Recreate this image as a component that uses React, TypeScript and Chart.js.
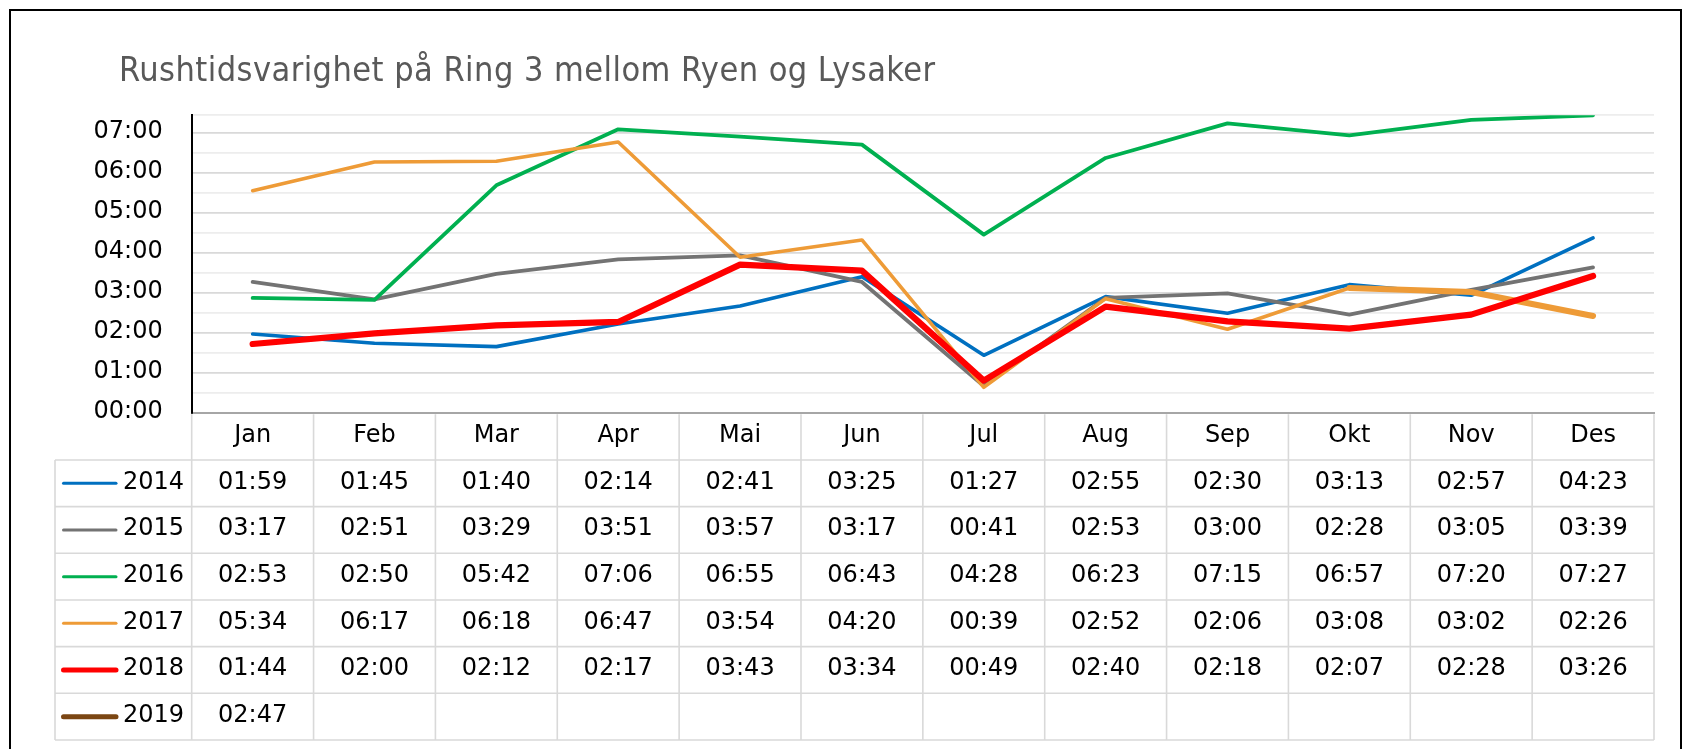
import React, { useEffect, useRef } from "react";
import { Chart, registerables } from "chart.js";

Chart.register(...registerables);

const titleText = "Rushtidsvarighet på Ring 3 mellom Ryen og Lysaker";

const months = ["Jan", "Feb", "Mar", "Apr", "Mai", "Jun", "Jul", "Aug", "Sep", "Okt", "Nov", "Des"];

const yearLabels = ["2014", "2015", "2016", "2017", "2018", "2019"];

const yTickLabels = ["00:00", "01:00", "02:00", "03:00", "04:00", "05:00", "06:00", "07:00"];

const v2014 = ["01:59", "01:45", "01:40", "02:14", "02:41", "03:25", "01:27", "02:55", "02:30", "03:13", "02:57", "04:23"];
const v2015 = ["03:17", "02:51", "03:29", "03:51", "03:57", "03:17", "00:41", "02:53", "03:00", "02:28", "03:05", "03:39"];
const v2016 = ["02:53", "02:50", "05:42", "07:06", "06:55", "06:43", "04:28", "06:23", "07:15", "06:57", "07:20", "07:27"];
const v2017 = ["05:34", "06:17", "06:18", "06:47", "03:54", "04:20", "00:39", "02:52", "02:06", "03:08", "03:02", "02:26"];
const v2018 = ["01:44", "02:00", "02:12", "02:17", "03:43", "03:34", "00:49", "02:40", "02:18", "02:07", "02:28", "03:26"];
const v2019 = ["02:47", "", "", "", "", "", "", "", "", "", "", ""];

const seriesValues = [v2014, v2015, v2016, v2017, v2018, v2019];
const seriesColors = ["#0070C0", "#737373", "#00B050", "#EE9B37", "#FF0000", "#7B4613"];
const seriesWidths = [3.6, 3.8, 3.8, 3.6, 6.2, 6.2];

const toMinutes = (s: string): number | null => {
  if (!s) return null;
  const [h, m] = s.split(":").map(Number);
  return h * 60 + m;
};

const FONT = "'DejaVu Sans', sans-serif";

const titlePlugin = {
  id: "excelTitle",
  afterDraw(chart: any) {
    const { ctx } = chart;
    ctx.save();
    ctx.font = "34px 'DejaVu Sans Condensed', 'DejaVu Sans', sans-serif";
    try {
      (ctx as any).fontStretch = "condensed";
      (ctx as any).letterSpacing = "0.45px";
    } catch (e) {}
    ctx.fillStyle = "#595959";
    ctx.textAlign = "left";
    ctx.textBaseline = "alphabetic";
    ctx.fillText(titleText, 119, 80.7);
    ctx.restore();
  },
};

const tablePlugin = {
  id: "dataTable",
  afterDraw(chart: any) {
    const { ctx, chartArea: ca } = chart;
    const xScale = chart.scales.x;
    const n = months.length;
    const w = (ca.right - ca.left) / n;
    const rowH = 46.67;
    const top = ca.bottom;
    const rows = chart.data.datasets.length;
    const bottom = top + rowH * (rows + 1);
    const legendLeft = ca.left - 136.7;

    const line = (x1: number, y1: number, x2: number, y2: number) => {
      ctx.beginPath();
      ctx.moveTo(x1, y1);
      ctx.lineTo(x2, y2);
      ctx.stroke();
    };

    ctx.save();
    ctx.strokeStyle = "#d9d9d9";
    ctx.lineWidth = 1.6;
    for (let i = 0; i <= n; i++) {
      const xx = ca.left + i * w;
      line(xx, top + 1, xx, bottom);
    }
    for (let r = 1; r <= rows + 1; r++) {
      const yy = top + r * rowH;
      line(legendLeft, yy, ca.right, yy);
    }
    line(legendLeft, top + rowH, legendLeft, bottom);

    ctx.font = "24px " + FONT;
    ctx.fillStyle = "#000000";
    ctx.textBaseline = "middle";
    chart.data.datasets.forEach((ds: any, r: number) => {
      const cy = top + (r + 1.5) * rowH - 1;
      ctx.textAlign = "center";
      seriesValues[r].forEach((txt: string, i: number) => {
        if (!txt) return;
        ctx.fillText(txt, xScale.getPixelForValue(i), cy);
      });
      // legend key
      ctx.save();
      ctx.strokeStyle = ds.borderColor;
      ctx.lineWidth = ds.legendWidth;
      ctx.lineCap = "round";
      line(legendLeft + 8.5, cy + 1, legendLeft + 61, cy + 1);
      ctx.restore();
      ctx.textAlign = "left";
      ctx.fillText(ds.label, legendLeft + 68, cy);
    });
    ctx.restore();
  },
};

export default function App() {
  const canvasRef = useRef<HTMLCanvasElement | null>(null);

  useEffect(() => {
    document.body.style.overflow = "hidden";
    const canvas = canvasRef.current;
    if (!canvas) return;

    const datasets = seriesValues.map((vals, idx) => ({
      label: yearLabels[idx],
      data: vals.map(toMinutes),
      borderColor: seriesColors[idx],
      backgroundColor: seriesColors[idx],
      borderWidth: seriesWidths[idx],
      legendWidth: idx >= 4 ? 5 : 3,
      pointRadius: 0,
      pointHoverRadius: 0,
      tension: 0,
      fill: false,
      borderCapStyle: idx === 5 ? "butt" : "round",
      borderJoinStyle: "round",
      spanGaps: false,
      order: seriesValues.length - idx,
      segment:
        idx === 3
          ? { borderWidth: (c: any) => (c.p0DataIndex >= 9 ? 6 : 3.6) }
          : undefined,
    }));

    const chart = new Chart(canvas, {
      type: "line",
      data: { labels: months, datasets: datasets as any },
      options: {
        responsive: false,
        animation: false,
        events: [],
        layout: { padding: { left: 0, right: 29, top: 115.3, bottom: 0 } },
        plugins: {
          legend: { display: false },
          title: { display: false },
          tooltip: { enabled: false },
        },
        scales: {
          x: {
            type: "category",
            offset: true,
            grid: { display: false, drawTicks: false },
            border: { display: true, color: "#a6a6a6", width: 2 },
            ticks: {
              color: "#000000",
              font: { family: FONT, size: 24 },
              padding: 8.5,
              maxRotation: 0,
              autoSkip: false,
            },
            afterFit: (scale: any) => {
              scale.height = 335.7;
            },
          },
          y: {
            type: "linear",
            min: 0,
            max: 447,
            afterBuildTicks: (scale: any) => {
              const t: any[] = [];
              for (let v = 0; v <= 420; v += 30) t.push({ value: v });
              t.push({ value: 447 });
              scale.ticks = t;
            },
            grid: {
              drawTicks: false,
              color: (c: any) =>
                c.tick && c.tick.value % 60 === 0 && c.tick.value !== 0 ? "#d9d9d9" : "#ededed",
              lineWidth: 1.7,
            },
            border: { display: true, color: "#000000", width: 2 },
            ticks: {
              color: "#000000",
              font: { family: FONT, size: 24 },
              padding: 29,
              labelOffset: -2,
              autoSkip: false,
              callback: (v: any) => (Number(v) % 60 === 0 ? yTickLabels[Number(v) / 60] : ""),
            },
            afterFit: (scale: any) => {
              scale.width = 191.7;
            },
          },
        },
      },
      plugins: [titlePlugin, tablePlugin],
    } as any);

    return () => chart.destroy();
  }, []);

  return (
    <>
      <div
        style={{
          position: "fixed",
          left: 9,
          top: 9,
          width: 1673,
          height: 800,
          border: "2px solid #000",
          boxSizing: "border-box",
          background: "#fff",
        }}
      />
      <canvas
        ref={canvasRef}
        width={1683}
        height={749}
        style={{ position: "fixed", left: 0, top: 0, width: 1683, height: 749 }}
      />
    </>
  );
}
